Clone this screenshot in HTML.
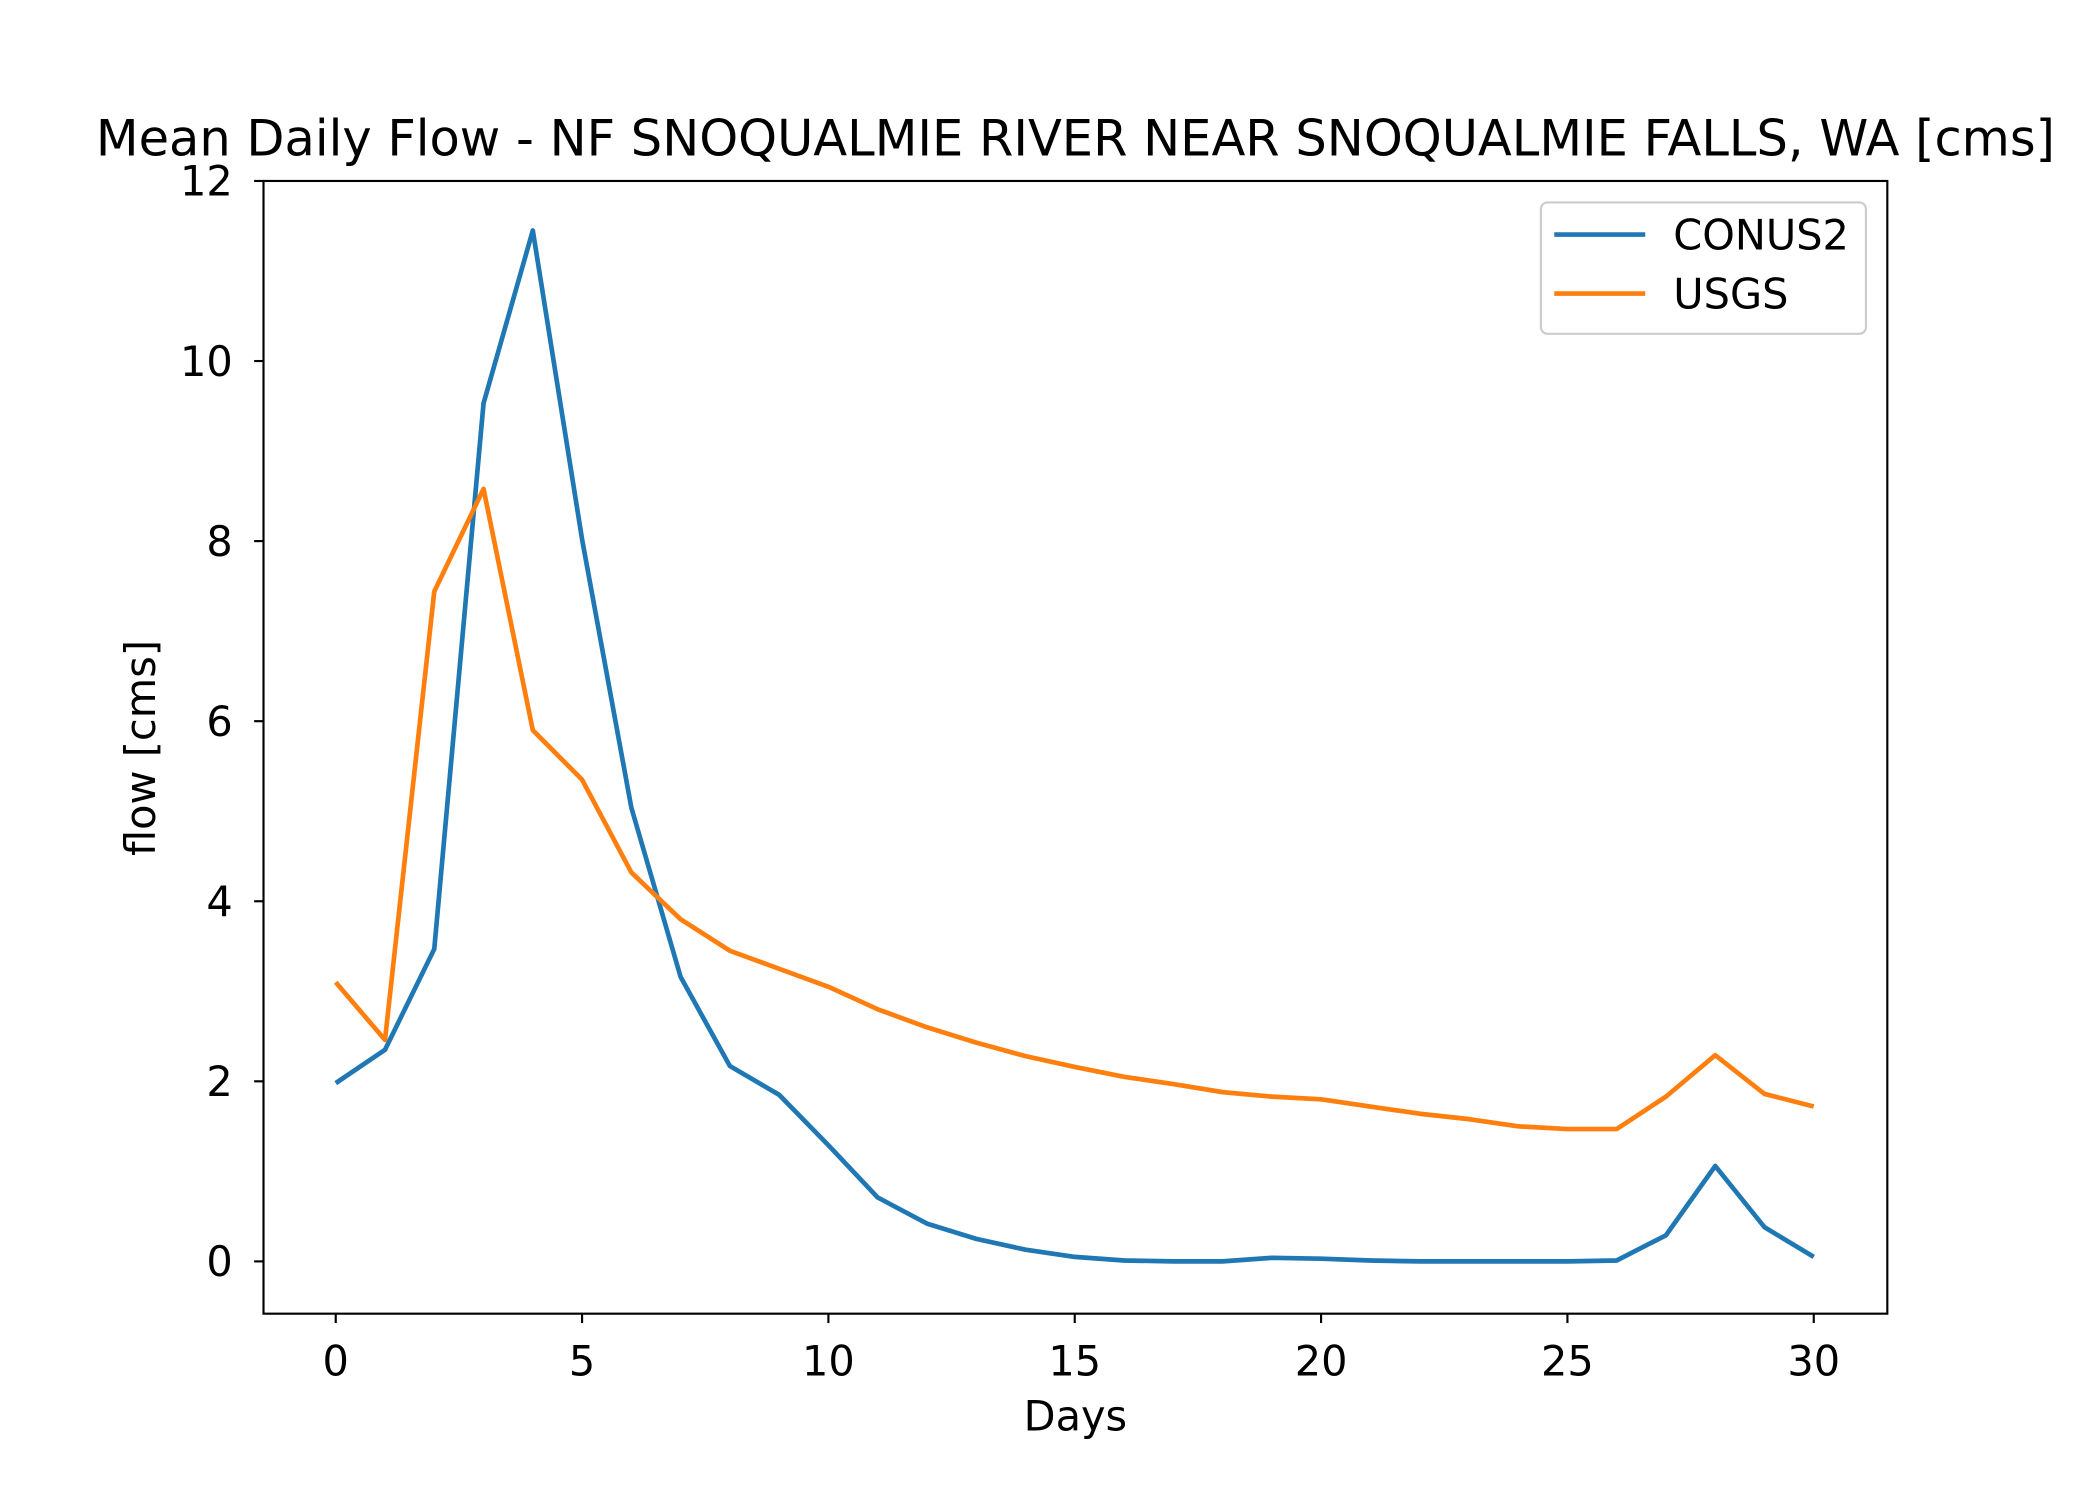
<!DOCTYPE html>
<html><head><meta charset="utf-8"><style>
html,body{margin:0;padding:0;background:#fff;}
svg{display:block;}
text{font-family:"DejaVu Sans","Liberation Sans",sans-serif;fill:#000;}
</style></head><body>
<svg id="chart" width="2100" height="1500" viewBox="0 0 1570 1119" preserveAspectRatio="none" xmlns="http://www.w3.org/2000/svg">
<rect x="0" y="0" width="1570" height="1119" fill="#fff"/>
<text x="804" y="116" font-size="37" text-anchor="middle">Mean Daily Flow - NF SNOQUALMIE RIVER NEAR SNOQUALMIE FALLS, WA [cms]</text>
<g id="ticks"></g>
<g id="lines"></g>
<rect x="197" y="135" width="1214" height="845" fill="none" stroke="#000" stroke-width="1.6"/>
<text x="804" y="1067" font-size="31" text-anchor="middle">Days</text>
<text transform="translate(116,558) rotate(-90)" font-size="31" text-anchor="middle">flow [cms]</text>
<g>
<rect x="1152" y="151" width="243" height="98" rx="5" fill="#fff" stroke="#ccc" stroke-width="1.6"/>
<line x1="1162" y1="175" x2="1230" y2="175" stroke="#1f77b4" stroke-width="3.5"/>
<text x="1251" y="186" font-size="31">CONUS2</text>
<line x1="1162" y1="219" x2="1230" y2="219" stroke="#ff7f0e" stroke-width="3.5"/>
<text x="1251" y="230" font-size="31">USGS</text>
</g>
</svg>
<script>
const days = Array.from({length:31},(_,i)=>i);
const conus2 = [1.98,2.35,3.47,9.53,11.45,8.02,5.04,3.16,2.17,1.85,1.29,0.71,0.42,0.25,0.13,0.05,0.01,0.0,0.0,0.04,0.03,0.01,0.0,0.0,0.0,0.0,0.01,0.29,1.06,0.38,0.05];
const usgs = [3.10,2.46,7.44,8.58,5.90,5.35,4.32,3.80,3.45,3.25,3.05,2.80,2.60,2.43,2.28,2.16,2.05,1.97,1.88,1.83,1.80,1.72,1.64,1.58,1.50,1.47,1.47,1.83,2.29,1.86,1.72];
const xTicks = [0,5,10,15,20,25,30];
const yTicks = [0,2,4,6,8,10,12];
const NS='http://www.w3.org/2000/svg';
function xs(v){return 251+(1356-251)*v/30;}
function ys(v){return 941-(941-135)*v/12;}
const tg=document.getElementById('ticks');
xTicks.forEach(t=>{
  const l=document.createElementNS(NS,'line');
  l.setAttribute('x1',xs(t));l.setAttribute('x2',xs(t));l.setAttribute('y1',980);l.setAttribute('y2',987);
  l.setAttribute('stroke','#000');l.setAttribute('stroke-width','1.6');
  
  
  tg.appendChild(l);
  const tx=document.createElementNS(NS,'text');
  tx.setAttribute('x',xs(t));tx.setAttribute('y',1026);tx.setAttribute('font-size','31');tx.setAttribute('text-anchor','middle');
  tx.textContent=t;
  
  
  tg.appendChild(tx);
});
yTicks.forEach(t=>{
  const l=document.createElementNS(NS,'line');
  l.setAttribute('x1',190);l.setAttribute('x2',197);l.setAttribute('y1',ys(t));l.setAttribute('y2',ys(t));
  l.setAttribute('stroke','#000');l.setAttribute('stroke-width','1.6');
  
  
  tg.appendChild(l);
  const tx=document.createElementNS(NS,'text');
  tx.setAttribute('x',174);tx.setAttribute('y',ys(t)+11);tx.setAttribute('font-size','31');tx.setAttribute('text-anchor','end');
  tx.textContent=t;
  
  
  tg.appendChild(tx);
});
const lg=document.getElementById('lines');
function drawLine(vals,color,name){
  const p=document.createElementNS(NS,'polyline');
  p.setAttribute('points',vals.map((v,i)=>xs(days[i])+','+ys(v)).join(' '));
  p.setAttribute('fill','none');p.setAttribute('stroke',color);p.setAttribute('stroke-width','3.5');
  p.setAttribute('stroke-linejoin','round');
  
  
  lg.appendChild(p);
}
drawLine(conus2,'#1f77b4','conus2-line');
drawLine(usgs,'#ff7f0e','usgs-line');
</script>
</body></html>
